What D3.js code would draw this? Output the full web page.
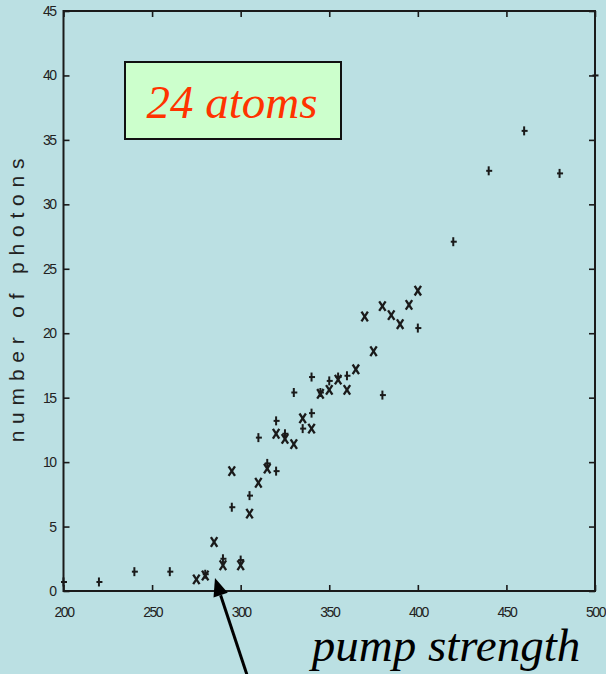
<!DOCTYPE html>
<html>
<head>
<meta charset="utf-8">
<script src="https://cdn.jsdelivr.net/npm/d3@7"></script>
<style>
  html, body { margin: 0; padding: 0; background: #bbe0e3; }
  svg { display: block; }
</style>
</head>
<body>
<script>
// Mean photon number vs pump strength, 24 atoms
const xTicks = [200, 250, 300, 350, 400, 450, 500];
const yTicks = [0, 5, 10, 15, 20, 25, 30, 35, 40, 45];

// runs shown with error-bar style markers
const barPump    = [200, 220, 240, 260, 280, 290, 295, 300, 305, 310, 315, 320, 320, 325, 330, 335, 340, 340, 345, 350, 355, 360, 380, 400, 420, 440, 460, 480, 500];
const barPhotons = [0.7, 0.7, 1.5, 1.5, 1.3, 2.5, 6.5, 2.4, 7.4, 11.9, 9.9, 13.2, 9.3, 12.2, 15.4, 12.6, 16.6, 13.8, 15.4, 16.3, 16.6, 16.7, 15.2, 20.4, 27.1, 32.6, 35.7, 32.4, 40.0];

// runs shown with cross markers
const crossPump    = [275, 280, 285, 290, 295, 300, 305, 310, 315, 320, 325, 330, 335, 340, 345, 350, 355, 360, 365, 370, 375, 380, 385, 390, 395, 400];
const crossPhotons = [0.9, 1.2, 3.8, 2.0, 9.3, 2.0, 6.0, 8.4, 9.5, 12.2, 11.8, 11.4, 13.4, 12.6, 15.3, 15.6, 16.4, 15.6, 17.2, 21.3, 18.6, 22.1, 21.4, 20.7, 22.2, 23.3];

const W = 606, H = 674;
const plotL = 63.5, plotR = 595, plotT = 11, plotB = 591;

const svg = d3.select("body").append("svg").attr("width", W).attr("height", H);

svg.append("rect").attr("width", W).attr("height", H).attr("fill", "#bbe0e3");

const x = d3.scaleLinear().domain([200, 500]).range([plotL, plotR]);
const y = d3.scaleLinear().domain([0, 45]).range([plotB, plotT]);

const ink = "#1a1a1a";
const tickFont = "'Liberation Sans', Arial, sans-serif";
const serif = "'Liberation Serif', 'Times New Roman', serif";

// frame
svg.append("rect")
  .attr("x", plotL).attr("y", plotT)
  .attr("width", plotR - plotL).attr("height", plotB - plotT)
  .attr("fill", "none").attr("stroke", ink).attr("stroke-width", 2);

// axes with inward ticks
const styleAxis = g => {
  g.select(".domain").remove();
  g.selectAll(".tick line").attr("stroke", ink).attr("stroke-width", 1.6);
  g.selectAll(".tick text")
    .attr("fill", "#222")
    .style("font-family", tickFont)
    .style("font-size", "14px")
    .style("letter-spacing", "-1.5px");
};

svg.append("g").attr("transform", `translate(0,${plotB})`)
  .call(d3.axisBottom(x).tickValues(xTicks).tickSizeInner(-6).tickSizeOuter(0).tickPadding(16).tickFormat(d3.format("d")))
  .call(styleAxis);
svg.append("g").attr("transform", `translate(0,${plotT})`)
  .call(d3.axisTop(x).tickValues(xTicks).tickSizeInner(-6).tickSizeOuter(0).tickFormat(""))
  .call(styleAxis);
svg.append("g").attr("transform", `translate(${plotL},0)`)
  .call(d3.axisLeft(y).tickValues(yTicks).tickSizeInner(-6).tickSizeOuter(0).tickPadding(8).tickFormat(d3.format("d")))
  .call(styleAxis);
svg.append("g").attr("transform", `translate(${plotR},0)`)
  .call(d3.axisRight(y).tickValues(yTicks).tickSizeInner(-6).tickSizeOuter(0).tickFormat(""))
  .call(styleAxis);

// y axis title
svg.append("text")
  .attr("transform", `translate(24,${(plotT + plotB) / 2 - 4}) rotate(-90)`)
  .attr("text-anchor", "middle")
  .attr("fill", "#222")
  .style("font-family", tickFont)
  .style("font-size", "21px")
  .style("letter-spacing", "6.8px")
  .text("number of photons");

// error-bar style markers
const bars = svg.append("g").attr("stroke", ink).attr("stroke-width", 2);
barPump.forEach((p, i) => {
  const cx = x(p), cy = y(barPhotons[i]);
  bars.append("line").attr("x1", cx).attr("x2", cx).attr("y1", cy - 4.5).attr("y2", cy + 4.5);
  bars.append("line").attr("x1", cx - 2.5).attr("x2", cx + 3.5).attr("y1", cy).attr("y2", cy);
});

// cross markers (slightly taller than wide)
const crosses = svg.append("g").attr("stroke", ink).attr("stroke-width", 2.3);
crossPump.forEach((p, i) => {
  const cx = x(p), cy = y(crossPhotons[i]), rx = 3.2, ry = 4.8;
  crosses.append("line").attr("x1", cx - rx).attr("x2", cx + rx).attr("y1", cy - ry).attr("y2", cy + ry);
  crosses.append("line").attr("x1", cx + rx).attr("x2", cx - rx).attr("y1", cy - ry).attr("y2", cy + ry);
});

// label box
svg.append("rect")
  .attr("x", 125).attr("y", 62).attr("width", 216).attr("height", 77)
  .attr("fill", "#ccffcc").attr("stroke", "#111").attr("stroke-width", 2);
svg.append("text")
  .attr("x", 232).attr("y", 118)
  .attr("text-anchor", "middle")
  .attr("fill", "#ff3300")
  .style("font-family", serif)
  .style("font-style", "italic")
  .style("font-size", "47px")
  .text("24 atoms");

// x axis title
svg.append("text")
  .attr("x", 446).attr("y", 661)
  .attr("text-anchor", "middle")
  .attr("fill", "#000")
  .style("font-family", serif)
  .style("font-style", "italic")
  .style("font-size", "47px")
  .text("pump strength");

// arrow pointing at the threshold region
const tip = [x(285.5), y(1.0)];
const tail = [252, 690];
const ang = Math.atan2(tail[1] - tip[1], tail[0] - tip[0]);
const headLen = 18, headHalf = 7.5;
const bx = tip[0] + headLen * Math.cos(ang), by = tip[1] + headLen * Math.sin(ang);
svg.append("line")
  .attr("x1", tail[0]).attr("y1", tail[1]).attr("x2", bx).attr("y2", by)
  .attr("stroke", "#000").attr("stroke-width", 3);
svg.append("path")
  .attr("d", d3.line()([
    tip,
    [bx + headHalf * Math.sin(ang), by - headHalf * Math.cos(ang)],
    [bx - headHalf * Math.sin(ang), by + headHalf * Math.cos(ang)]
  ]) + "Z")
  .attr("fill", "#000");
</script>
</body>
</html>
